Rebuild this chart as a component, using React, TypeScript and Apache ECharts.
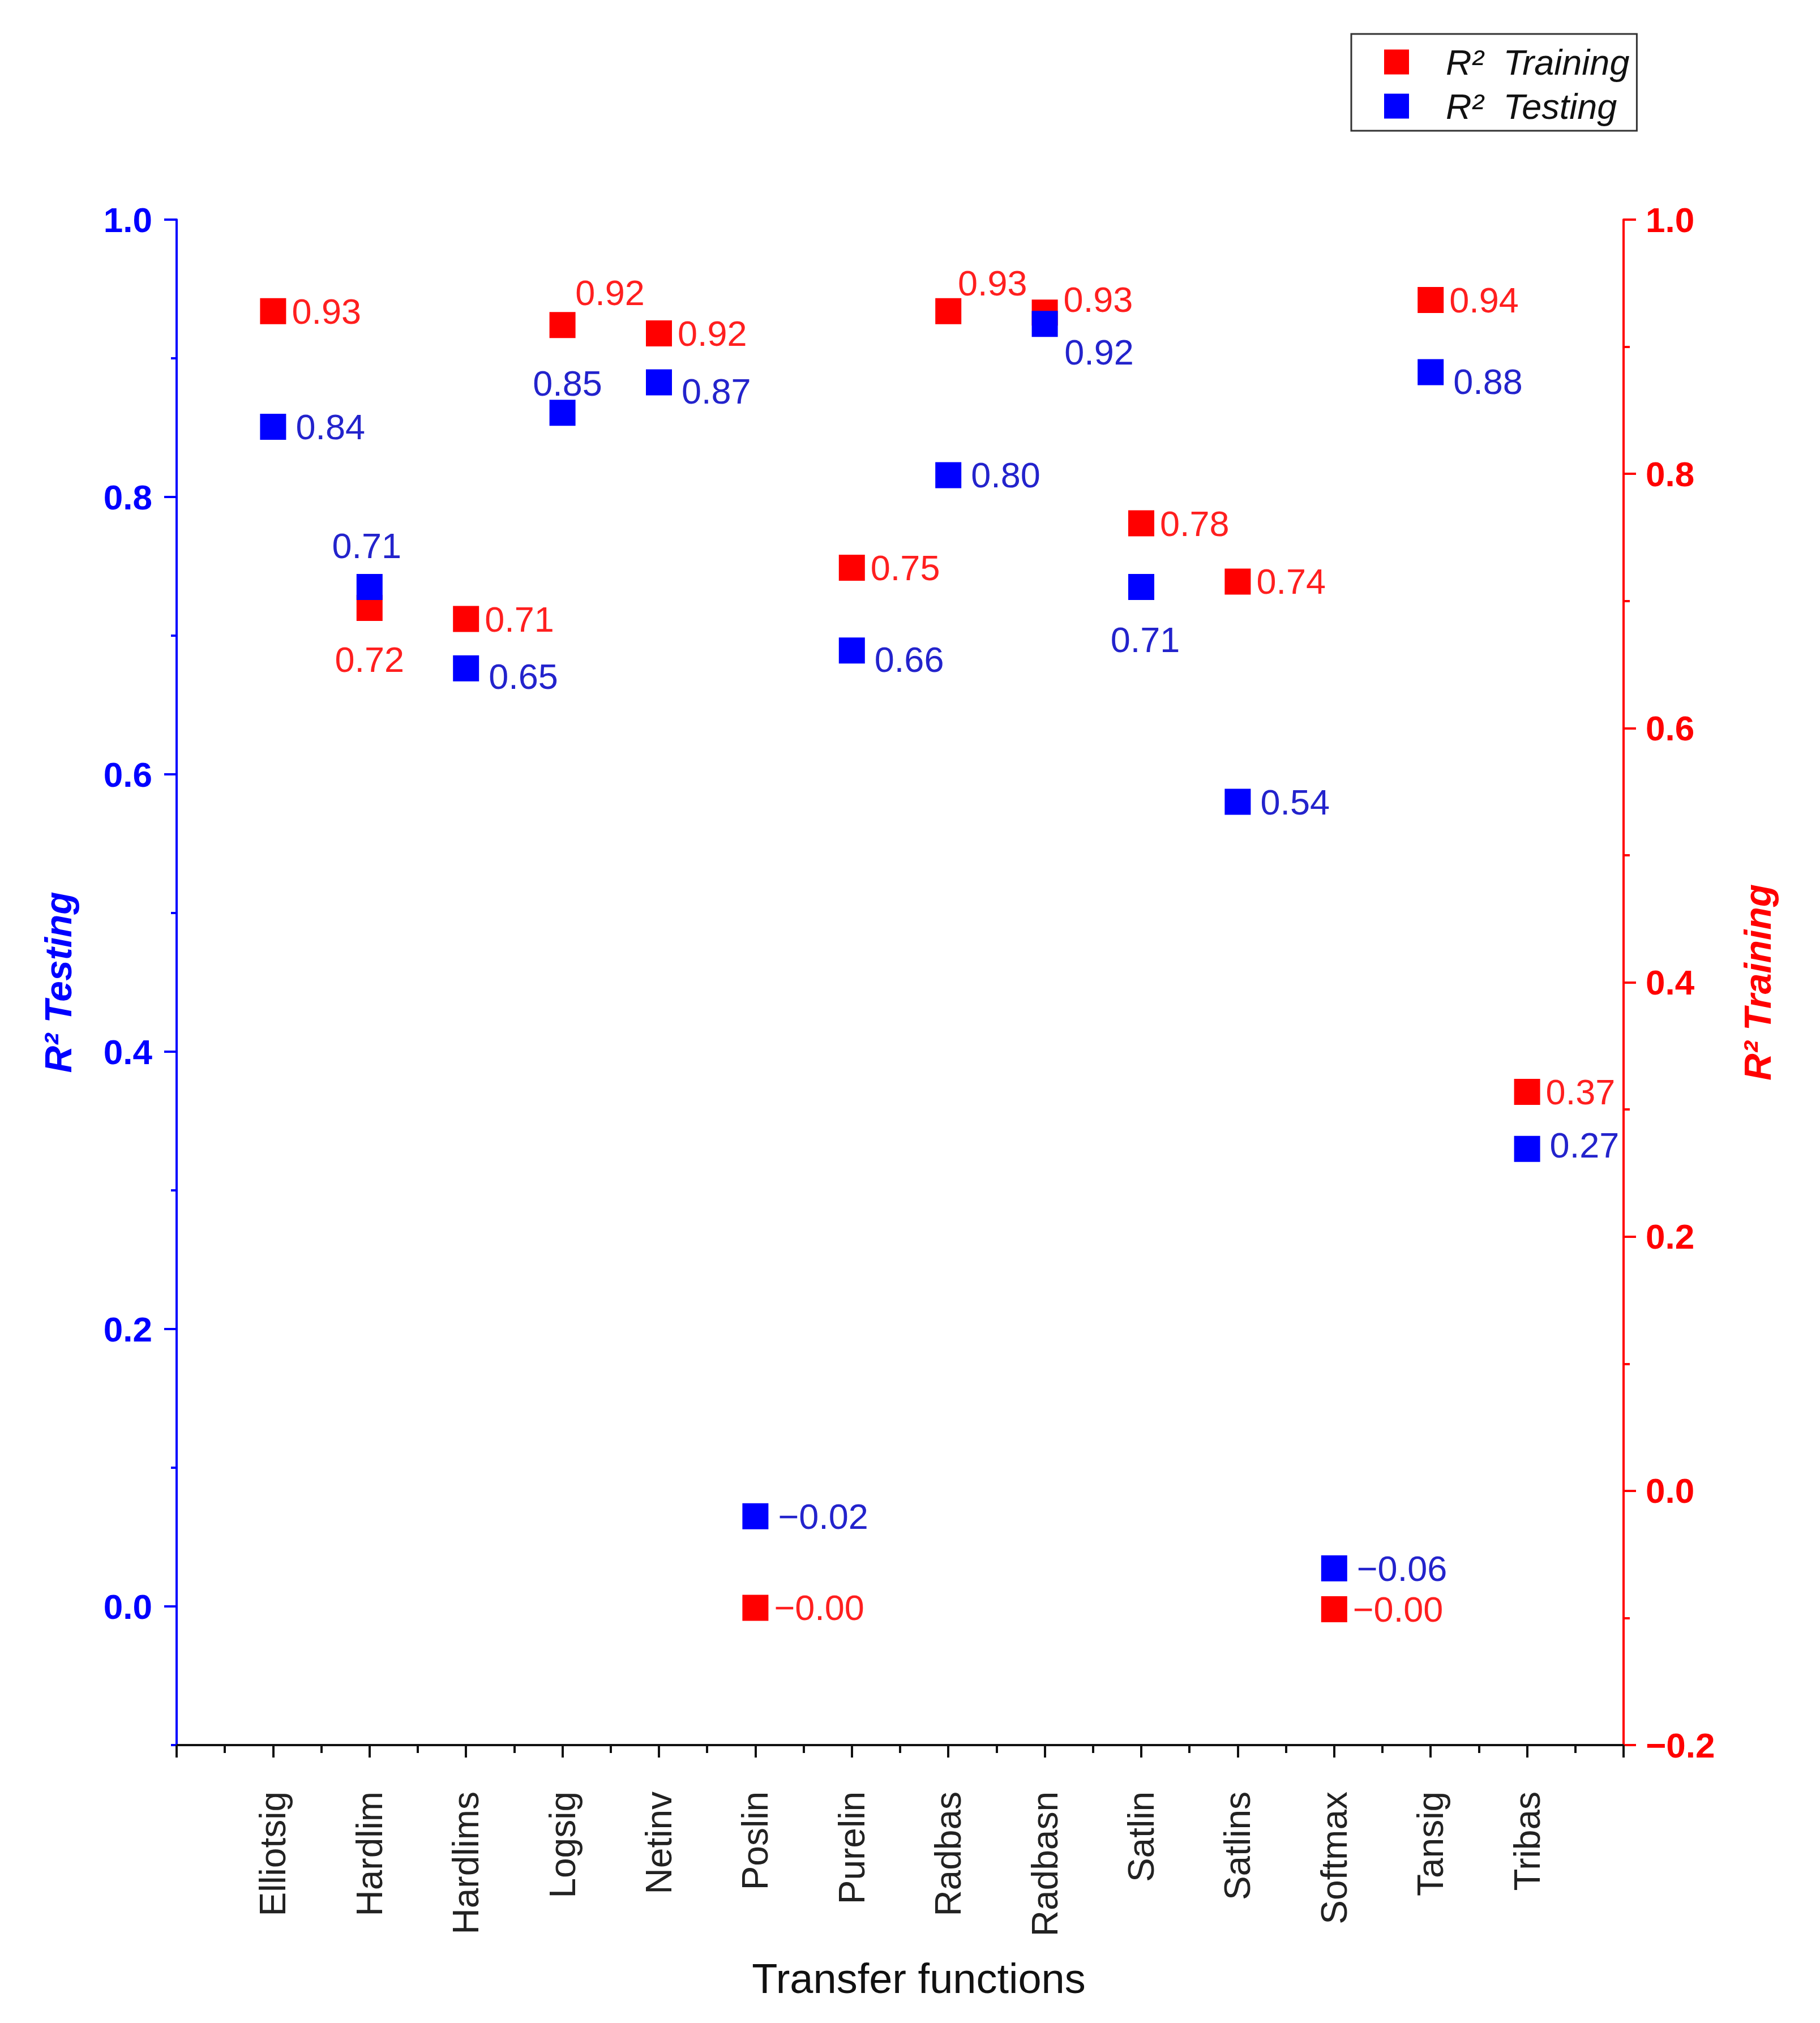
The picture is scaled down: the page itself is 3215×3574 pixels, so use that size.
import { useEffect, useRef } from 'react';
import * as echarts from 'echarts';

const categories = [
  'Elliotsig', 'Hardlim', 'Hardlims', 'Logsig', 'Netinv', 'Poslin', 'Purelin',
  'Radbas', 'Radbasn', 'Satlin', 'Satlins', 'Softmax', 'Tansig', 'Tribas',
];
// red squares, read against the left scale
const trainingR2 = [0.934, 0.72, 0.712, 0.924, 0.918, -0.001, 0.749, 0.934, 0.933, 0.781, 0.739, -0.002, 0.942, 0.371];
// blue squares, read against the right scale
const testingR2 = [0.837, 0.711, 0.647, 0.848, 0.872, -0.02, 0.661, 0.799, 0.918, 0.711, 0.542, -0.061, 0.88, 0.269];

const leftTicks = [0, 0.2, 0.4, 0.6, 0.8, 1.0];
const leftMinorTicks = [-0.1, 0.1, 0.3, 0.5, 0.7, 0.9];

const FONT = 'Liberation Sans, Arial, sans-serif';
const BLUE = '#0000ff';
const RED = '#ff0000';

type LabelTweak = { center?: number[]; dy?: number };

// where a value label is not simply to the right of its marker
const trainingLabelTweaks: Record<string, LabelTweak> = {
  Hardlim: { center: [0, 91] },
  Logsig: { center: [84, -57] },
  Radbas: { center: [78, -50] },
  Radbasn: { dy: -23 },
};
const testingLabelTweaks: Record<string, LabelTweak> = {
  Hardlim: { center: [-5, -73] },
  Hardlims: { dy: 14 },
  Logsig: { center: [9, -52] },
  Netinv: { dy: 16 },
  Purelin: { dy: 16 },
  Radbasn: { center: [96, 50] },
  Satlin: { center: [7, 93] },
  Tansig: { dy: 16 },
  Tribas: { dy: -7 },
};

const fmt = (v: number, digits: number) => v.toFixed(digits).replace('-', '\u2212');

function toPoints(values: number[], tweaks: Record<string, LabelTweak>, distance: number) {
  return values.map((v, i) => {
    const t = tweaks[categories[i]];
    const label = t?.center
      ? { position: 'inside', offset: t.center }
      : { position: 'right', distance, offset: [0, t?.dy ?? 0] };
    return { value: [i + 1, v], label };
  });
}

export default function App() {
  const chartRef = useRef<HTMLDivElement>(null);

  useEffect(() => {
    if (!chartRef.current) return;
    const chart = echarts.init(chartRef.current, undefined, { renderer: 'svg' });

    const option: any = {
      animation: false,
      backgroundColor: '#ffffff',
      textStyle: { fontFamily: FONT },
      grid: { left: 312, top: 388, right: 347, bottom: 491, outerBoundsMode: 'none' },
      legend: {
        orient: 'vertical',
        left: 2387,
        top: 60,
        borderColor: '#333',
        borderWidth: 3,
        padding: [18, 13, 12, 58],
        itemWidth: 44,
        itemHeight: 44,
        itemGap: 15,
        icon: 'rect',
        textStyle: {
          fontFamily: FONT,
          fontSize: 63,
          fontStyle: 'italic',
          color: '#111',
          padding: [0, 0, 0, 60],
        },
        data: ['R\u00b2  Training', 'R\u00b2  Testing'],
      },
      xAxis: {
        type: 'value',
        min: 0,
        max: 15,
        interval: 1,
        position: 'bottom',
        axisLine: { show: true, onZero: false, lineStyle: { color: '#111', width: 4 } },
        axisTick: { show: true, length: 22, lineStyle: { color: '#111', width: 4 } },
        minorTick: { show: true, splitNumber: 2, length: 14, lineStyle: { color: '#111', width: 4 } },
        splitLine: { show: false },
        minorSplitLine: { show: false },
        axisLabel: {
          rotate: 90,
          margin: 82,
          fontSize: 64,
          color: '#222',
          fontFamily: FONT,
          formatter: (v: number) => categories[v - 1] ?? '',
        },
        name: 'Transfer functions',
        nameLocation: 'middle',
        nameGap: 375,
        nameTextStyle: { fontSize: 74, color: '#111', fontFamily: FONT, padding: [0, 0, 0, 66] },
      },
      yAxis: [
        {
          type: 'value',
          position: 'left',
          min: -0.1,
          max: 1.0,
          interval: 0.1,
          axisLine: { show: true, onZero: false, lineStyle: { color: BLUE, width: 4 } },
          axisTick: { show: true, length: 22, customValues: leftTicks, lineStyle: { color: BLUE, width: 4 } },
          splitLine: { show: false },
          axisLabel: {
            customValues: leftTicks,
            margin: 43,
            fontSize: 62,
            fontWeight: 'bold',
            color: BLUE,
            fontFamily: FONT,
            formatter: (v: number) => fmt(v, 1),
          },
          name: 'R\u00b2 Testing',
          nameLocation: 'middle',
          nameRotate: 90,
          nameGap: 176,
          nameTextStyle: { fontSize: 66, fontWeight: 'bold', fontStyle: 'italic', color: BLUE, fontFamily: FONT },
        },
        {
          type: 'value',
          position: 'right',
          min: -0.2,
          max: 1.0,
          interval: 0.2,
          axisLine: { show: true, onZero: false, lineStyle: { color: RED, width: 4 } },
          axisTick: { show: true, length: 22, lineStyle: { color: RED, width: 4 } },
          minorTick: { show: true, splitNumber: 2, length: 11, lineStyle: { color: RED, width: 4 } },
          splitLine: { show: false },
          minorSplitLine: { show: false },
          axisLabel: {
            margin: 39,
            fontSize: 62,
            fontWeight: 'bold',
            color: RED,
            fontFamily: FONT,
            formatter: (v: number) => fmt(v, 1),
          },
          name: 'R\u00b2 Training',
          nameLocation: 'middle',
          nameRotate: 90,
          nameGap: 204,
          nameTextStyle: { fontSize: 66, fontWeight: 'bold', fontStyle: 'italic', color: RED, fontFamily: FONT },
        },
        {
          // minor ticks of the left scale
          type: 'value',
          position: 'left',
          min: -0.1,
          max: 1.0,
          axisLine: { show: false, onZero: false },
          axisTick: { show: true, length: 10, customValues: leftMinorTicks, lineStyle: { color: BLUE, width: 4 } },
          axisLabel: { show: false },
          splitLine: { show: false },
        },
      ],
      series: [
        {
          name: 'R\u00b2  Training',
          type: 'scatter',
          yAxisIndex: 0,
          symbol: 'rect',
          symbolSize: 46,
          itemStyle: { color: RED, opacity: 1 },
          label: {
            show: true,
            color: '#ff1f1f',
            fontSize: 63,
            fontFamily: FONT,
            formatter: (p: any) => fmt(p.value[1], 2),
          },
          data: toPoints(trainingR2, trainingLabelTweaks, 10),
        },
        {
          name: 'R\u00b2  Testing',
          type: 'scatter',
          yAxisIndex: 1,
          symbol: 'rect',
          symbolSize: 46,
          itemStyle: { color: BLUE, opacity: 1 },
          label: {
            show: true,
            color: '#2323cc',
            fontSize: 63,
            fontFamily: FONT,
            formatter: (p: any) => fmt(p.value[1], 2),
          },
          data: toPoints(testingR2, testingLabelTweaks, 17),
        },
      ],
    };

    chart.setOption(option);

    return () => {
      chart.dispose();
    };
  }, []);

  return (
    <div
      ref={chartRef}
      style={{ position: 'fixed', left: 0, top: 0, width: 3215, height: 3574, background: '#fff' }}
    />
  );
}
